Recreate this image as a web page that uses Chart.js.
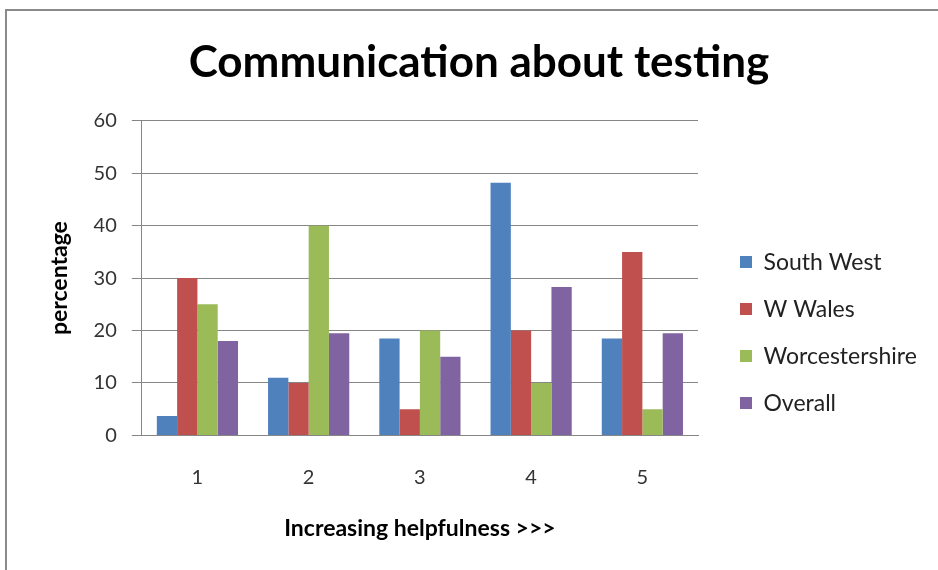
<!DOCTYPE html>
<html>
<head>
<meta charset="utf-8">
<script src="https://cdn.jsdelivr.net/npm/chart.js@4/dist/chart.umd.min.js"></script>
<style>
  body { margin: 0; background: #fff; }
  #wrap { position: relative; width: 938px; height: 570px; }
  #frame { position: absolute; left: 5px; top: 9px; width: 940px; height: 570px;
           border-left: 2px solid #8a8a8a; border-top: 2px solid #8a8a8a; }
  canvas { position: absolute; left: 0; top: 0; }
</style>
</head>
<body>
<div id="wrap">
  <div id="frame"></div>
  <canvas id="chart" width="938" height="570"></canvas>
</div>
<script>
var categories = ['1', '2', '3', '4', '5'];
var seriesNames = ['South West', 'W Wales', 'Worcestershire', 'Overall'];
var southWest = [3.7, 11, 18.5, 48.2, 18.5];
var wWales = [30, 10, 5, 20, 35];
var worcestershire = [25, 40, 20, 10, 5];
var overall = [18, 19.5, 15, 28.3, 19.5];
var colors = ['#4F81BD', '#C0504D', '#9BBB59', '#8064A2'];

var font = 'Lato, "Open Sans", sans-serif';

// legend swatch: 12px square sitting at the right end of a 30px wide strip
function swatch(color) {
  var c = document.createElement('canvas');
  c.width = 30; c.height = 12;
  var g = c.getContext('2d');
  g.fillStyle = color;
  g.fillRect(18, 0, 12, 12);
  return c;
}
var swatches = colors.map(swatch);

// let the legend be wider than half the chart
var legendWidth = {
  id: 'legendWidth',
  beforeLayout: function(chart) {
    var lg = chart.legend;
    if (lg && !lg.fitPatched) {
      var fit = lg.fit;
      lg.fit = function() { fit.call(this); this.width = 230; };
      lg.fitPatched = true;
    }
  }
};

var ctx = document.getElementById('chart').getContext('2d');
var chart = new Chart(ctx, {
  type: 'bar',
  data: {
    labels: categories,
    datasets: [
      { label: seriesNames[0], data: southWest, backgroundColor: colors[0] },
      { label: seriesNames[1], data: wWales, backgroundColor: colors[1] },
      { label: seriesNames[2], data: worcestershire, backgroundColor: colors[2] },
      { label: seriesNames[3], data: overall, backgroundColor: colors[3] }
    ]
  },
  plugins: [legendWidth],
  options: {
    responsive: false,
    animation: false,
    layout: { padding: { top: 36, left: 30, right: 10, bottom: 28 } },
    datasets: { bar: { categoryPercentage: 0.73, barPercentage: 1.0 } },
    plugins: {
      title: {
        display: true,
        text: 'Communication about testing',
        color: '#000',
        font: { family: font, size: 44, weight: 'bold', lineHeight: 1.2 },
        padding: { top: 0, bottom: 32 }
      },
      legend: {
        position: 'right',
        title: { display: true, text: ' ', font: { family: font, size: 23 }, padding: { top: 60, bottom: 0 } },
        labels: {
          color: '#222',
          font: { family: font, size: 23 },
          usePointStyle: true,
          pointStyleWidth: 30,
          boxHeight: 12,
          padding: 24,
          generateLabels: function(chart) {
            return chart.data.datasets.map(function(ds, i) {
              return {
                text: ds.label,
                pointStyle: swatches[i],
                fillStyle: colors[i],
                strokeStyle: colors[i],
                lineWidth: 0,
                fontColor: '#222',
                hidden: false,
                datasetIndex: i
              };
            });
          }
        }
      },
      tooltip: { enabled: false }
    },
    scales: {
      x: {
        grid: { display: false },
        border: { display: true, color: '#868686' },
        ticks: { color: '#333', font: { family: font, size: 20 }, padding: 22 },
        title: {
          display: true,
          text: 'Increasing helpfulness >>>',
          color: '#000',
          font: { family: font, size: 23, weight: 'bold' },
          padding: { top: 3, bottom: 0 }
        }
      },
      y: {
        min: 0,
        max: 60,
        ticks: { stepSize: 10, color: '#333', font: { family: font, size: 20 }, padding: 15 },
        grid: { color: '#868686', tickLength: 10, lineWidth: 1 },
        border: { display: true, color: '#868686' },
        title: {
          display: true,
          text: 'percentage',
          color: '#000',
          font: { family: font, size: 23, weight: 'bold' },
          padding: { top: 16, bottom: 5 }
        }
      }
    }
  }
});
</script>
</body>
</html>
